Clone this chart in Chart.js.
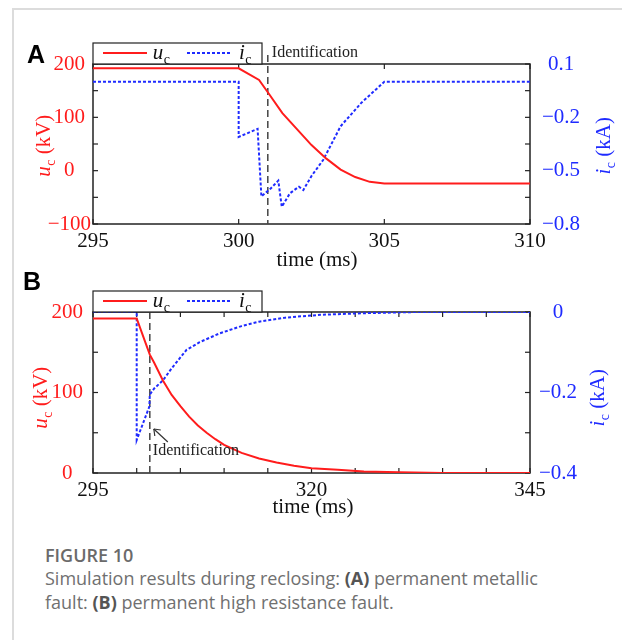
<!DOCTYPE html>
<html>
<head>
<meta charset="utf-8">
<script src="https://cdn.jsdelivr.net/npm/chart.js@4.4.0/dist/chart.umd.min.js"></script>
<style>
  body { margin: 0; width: 622px; height: 640px; background: #fff; position: relative; overflow: hidden; }
  .card { position: absolute; left: 12px; top: 8px; width: 640px; height: 660px; border-top: 2px solid #dcdcdc; border-left: 2px solid #dcdcdc; }
  canvas { position: absolute; left: 0; }
  #chartA { top: 0; }
  #chartB { top: 270px; }
  .tag { position: absolute; font: bold 25px/25px "Liberation Sans", Arial, sans-serif; color: #000; }
  .caption { position: absolute; left: 45px; top: 543px; font-family: "Open Sans", sans-serif; font-size: 18px; line-height: 24px; color: #707070; }
  .caption .fig { font-weight: 600; margin-bottom: -1px; color: #6a6a6a; }
  .caption b { font-weight: 700; color: #555; }
</style>
</head>
<body>
<div class="card"></div>
<canvas id="chartA" width="622" height="270"></canvas>
<canvas id="chartB" width="622" height="270"></canvas>
<div class="tag" style="left:27px; top:42px;">A</div>
<div class="tag" style="left:23px; top:269px;">B</div>
<div class="caption">
  <div class="fig">FIGURE 10</div>
  <div>Simulation results during reclosing: <b>(A)</b> permanent metallic<br>fault: <b>(B)</b> permanent high resistance fault.</div>
</div>
<script>
// (A) permanent metallic fault
const timeA_uc = [295, 300, 300.7, 301, 301.5, 302, 302.5, 303, 303.5, 304, 304.5, 305, 310];
const ucA = [192, 192, 170, 147, 108, 78, 48, 23, 2, -12, -21, -24, -24];
const timeA_ic = [295, 300, 300, 300.65, 300.78, 301.1, 301.36, 301.48, 301.76, 302.07, 302.22, 302.5, 302.9, 303.5, 304.2, 305, 310];
const icA = [0, 0, -0.31, -0.265, -0.645, -0.6, -0.556, -0.703, -0.627, -0.59, -0.609, -0.53, -0.44, -0.25, -0.12, 0, 0];
const identA = 301;

// (B) permanent high resistance fault
const timeB_uc = [295, 300, 301, 301.5, 302, 303, 304, 305, 306, 307, 308, 309, 310, 312, 314, 316, 318, 320, 323, 326, 330, 335, 345];
const ucB = [192, 192, 162, 147, 137, 115, 97, 83, 70, 59, 50, 42, 35, 25, 18, 13, 9, 6, 4, 2, 1, 0, 0];
const timeB_ic = [295, 300, 300, 301.45, 301.5, 302, 303, 304, 305.7, 307.2, 309.5, 312, 314, 317, 321, 326, 332, 345];
const icB = [0, 0, -0.318, -0.235, -0.205, -0.19, -0.17, -0.14, -0.094, -0.075, -0.053, -0.035, -0.024, -0.014, -0.007, -0.003, 0, 0];
const identB = 301.5;

// ticks (all marks) and the ones that carry a label
const ticksA_x = [295, 300, 305, 310];
const labelsA_x = [295, 300, 305, 310];
const ticksA_uc = [-100, -50, 0, 50, 100, 150, 200];
const labelsA_uc = [-100, 0, 100, 200];
const ticksA_ic = [-0.8, -0.65, -0.5, -0.35, -0.2, -0.05, 0.1];
const labelsA_ic = [-0.8, -0.5, -0.2, 0.1];

const ticksB_x = [295, 300, 305, 310, 315, 320, 325, 330, 335, 340, 345];
const labelsB_x = [295, 320, 345];
const ticksB_uc = [0, 50, 100, 150, 200];
const labelsB_uc = [0, 100, 200];
const ticksB_ic = [-0.4, -0.3, -0.2, -0.1, 0];
const labelsB_ic = [-0.4, -0.2, 0];

const RED = '#ff1c1c';
const BLUE = '#1f2bff';
const SERIF = '"Liberation Serif", "Times New Roman", serif';

const pts = (xs, ys) => xs.map((x, i) => ({ x: x, y: ys[i] }));
const fmt = v => (v < 0 ? '\u2212' : '') + Math.abs(v);

function subText(ctx, x, y, main, sub, rest, size) {
  // italic letter, upright subscript, rest of label; centred on x, baseline y
  const fMain = 'italic ' + size + 'px ' + SERIF;
  const fSub = Math.round(size * 0.65) + 'px ' + SERIF;
  const fRest = size + 'px ' + SERIF;
  ctx.font = fMain; const w1 = ctx.measureText(main).width;
  ctx.font = fSub; const w2 = ctx.measureText(sub).width;
  ctx.font = fRest; const w3 = ctx.measureText(rest).width;
  let cx = x - (w1 + w2 + w3) / 2;
  ctx.textAlign = 'left';
  ctx.textBaseline = 'alphabetic';
  ctx.font = fMain; ctx.fillText(main, cx, y); cx += w1 + 0.5;
  ctx.font = fSub; ctx.fillText(sub, cx, y + size * 0.22); cx += w2;
  ctx.font = fRest; ctx.fillText(rest, cx, y);
}

function line(ctx, x1, y1, x2, y2) {
  ctx.beginPath(); ctx.moveTo(x1, y1); ctx.lineTo(x2, y2); ctx.stroke();
}

function decor(cfg) {
  return {
    id: 'decor',
    beforeDatasetsDraw(chart) {
      const { ctx, chartArea: a, scales } = chart;
      ctx.save();
      ctx.strokeStyle = '#222';
      ctx.lineWidth = 1.5;
      ctx.strokeRect(a.left, a.top, a.right - a.left, a.bottom - a.top);
      ctx.lineWidth = 1.2;
      const len = 5;
      scales.x.ticks.forEach(t => {
        const p = scales.x.getPixelForValue(t.value);
        line(ctx, p, a.bottom, p, a.bottom - len);
        line(ctx, p, a.top, p, a.top + len);
      });
      scales.y.ticks.forEach(t => {
        const p = scales.y.getPixelForValue(t.value);
        line(ctx, a.left, p, a.left + len, p);
      });
      scales.y1.ticks.forEach(t => {
        const p = scales.y1.getPixelForValue(t.value);
        line(ctx, a.right, p, a.right - len, p);
      });
      // identification instant
      const xi = scales.x.getPixelForValue(cfg.ident);
      ctx.strokeStyle = '#444';
      ctx.lineWidth = 1.5;
      ctx.setLineDash([7, 4]);
      line(ctx, xi, cfg.identTop(a), xi, a.bottom);
      ctx.restore();
    },
    afterDraw(chart) {
      const { ctx, chartArea: a, scales } = chart;
      ctx.save();
      // legend box
      ctx.fillStyle = '#fff';
      ctx.strokeStyle = '#222';
      ctx.lineWidth = 1.2;
      ctx.fillRect(a.left, a.top - 21, 169, 21);
      ctx.strokeRect(a.left, a.top - 21, 169, 21);
      const ly = a.top - 11;
      ctx.lineWidth = 2;
      ctx.strokeStyle = RED;
      line(ctx, a.left + 10, ly, a.left + 54, ly);
      ctx.strokeStyle = BLUE;
      ctx.setLineDash([3, 2]);
      line(ctx, a.left + 94, ly, a.left + 139, ly);
      ctx.setLineDash([]);
      ctx.fillStyle = '#111';
      subText(ctx, a.left + 68, a.top - 5, 'u', 'c', '', 21);
      subText(ctx, a.left + 152, a.top - 5, 'i', 'c', '', 21);

      // identification label
      const xi = scales.x.getPixelForValue(cfg.ident);
      ctx.fillStyle = '#222';
      ctx.font = '16px ' + SERIF;
      ctx.textAlign = 'left';
      ctx.textBaseline = 'alphabetic';
      if (cfg.panel === 'A') {
        ctx.fillText('Identification', xi + 4, a.top - 7);
      } else {
        ctx.fillText('Identification', xi + 3, a.bottom - 18);
        ctx.strokeStyle = '#333';
        ctx.lineWidth = 1.2;
        const tx = xi + 4, ty = a.bottom - 44;
        line(ctx, xi + 18, a.bottom - 31, tx, ty);
        line(ctx, tx, ty, tx + 7, ty + 1);
        line(ctx, tx, ty, tx + 1, ty + 7);
      }

      // axis titles
      ctx.fillStyle = RED;
      ctx.save();
      ctx.translate(cfg.leftTitleX, cfg.titleY);
      ctx.rotate(-Math.PI / 2);
      subText(ctx, 0, 7, 'u', 'c', ' (kV)', 21);
      ctx.restore();
      ctx.fillStyle = BLUE;
      ctx.save();
      ctx.translate(cfg.rightTitleX, cfg.titleY);
      ctx.rotate(-Math.PI / 2);
      subText(ctx, 0, 7, 'i', 'c', ' (kA)', 21);
      ctx.restore();
      ctx.fillStyle = '#111';
      ctx.font = '21px ' + SERIF;
      ctx.textAlign = 'center';
      ctx.fillText('time (ms)', cfg.timeX, cfg.timeY);
      ctx.restore();
    }
  };
}

function makeChart(id, cfg) {
  const tickFont = { family: SERIF, size: 21 };
  return new Chart(document.getElementById(id), {
    type: 'line',
    data: {
      datasets: [
        { data: pts(cfg.tu, cfg.u), yAxisID: 'y', borderColor: RED, borderWidth: 2, pointRadius: 0, tension: 0 },
        { data: pts(cfg.ti, cfg.i), yAxisID: 'y1', borderColor: BLUE, borderWidth: 2, borderDash: [3, 2], pointRadius: 0, tension: 0 }
      ]
    },
    options: {
      responsive: false,
      animation: false,
      events: [],
      layout: { padding: { top: cfg.padTop, left: 0, right: 0, bottom: 0 } },
      plugins: { legend: { display: false }, tooltip: { enabled: false } },
      scales: {
        x: {
          type: 'linear', min: cfg.xt[0], max: cfg.xt[cfg.xt.length - 1],
          afterBuildTicks: s => { s.ticks = cfg.xt.map(v => ({ value: v })); },
          afterFit: s => { s.height = cfg.xh; },
          grid: { display: false, drawTicks: false }, border: { display: false },
          ticks: { autoSkip: false, maxRotation: 0, padding: 5, color: '#111', font: tickFont,
            callback: v => cfg.xl.includes(v) ? String(v) : '' }
        },
        y: {
          position: 'left', min: cfg.ut[0], max: cfg.ut[cfg.ut.length - 1],
          afterBuildTicks: s => { s.ticks = cfg.ut.map(v => ({ value: v })); },
          afterFit: s => { s.width = 93; },
          grid: { display: false, drawTicks: false }, border: { display: false },
          ticks: { autoSkip: false, crossAlign: 'center', padding: cfg.padL, color: RED, font: tickFont,
            callback: v => cfg.ul.includes(v) ? fmt(v) : '' }
        },
        y1: {
          position: 'right', min: cfg.it[0], max: cfg.it[cfg.it.length - 1],
          afterBuildTicks: s => { s.ticks = cfg.it.map(v => ({ value: v })); },
          afterFit: s => { s.width = 92; },
          grid: { display: false, drawTicks: false }, border: { display: false },
          ticks: { autoSkip: false, crossAlign: 'center', padding: cfg.padR, color: BLUE, font: tickFont,
            callback: v => cfg.il.includes(v) ? fmt(v) : '' }
        }
      }
    },
    plugins: [decor(cfg)]
  });
}

makeChart('chartA', {
  panel: 'A', tu: timeA_uc, u: ucA, ti: timeA_ic, i: icA, ident: identA,
  xt: ticksA_x, xl: labelsA_x, ut: ticksA_uc, ul: labelsA_uc, it: ticksA_ic, il: labelsA_ic,
  padTop: 64, xh: 46, padL: 2, padR: 12,
  identTop: a => a.top - 9,
  leftTitleX: 43, rightTitleX: 603, titleY: 146, timeX: 317, timeY: 266
});

makeChart('chartB', {
  panel: 'B', tu: timeB_uc, u: ucB, ti: timeB_ic, i: icB, ident: identB,
  xt: ticksB_x, xl: labelsB_x, ut: ticksB_uc, ul: labelsB_uc, it: ticksB_ic, il: labelsB_ic,
  padTop: 42, xh: 67, padL: 10, padR: 9,
  identTop: a => a.top,
  leftTitleX: 40, rightTitleX: 597, titleY: 128, timeX: 313, timeY: 243
});
</script>
</body>
</html>
